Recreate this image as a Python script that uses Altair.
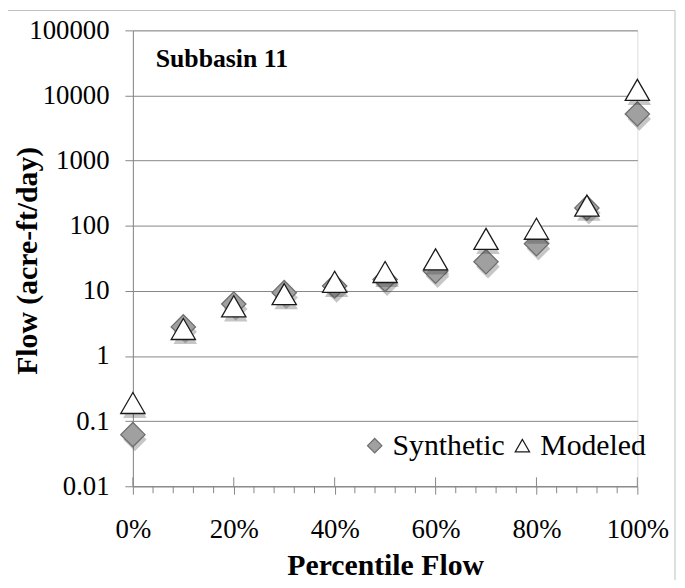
import altair as alt
import pandas as pd

percentiles = [0.0, 0.1, 0.2, 0.3, 0.4, 0.5, 0.6, 0.7, 0.8, 0.9, 1.0]
synthetic = [0.062, 2.8, 6.3, 9.4, 11.9, 15, 20, 28, 53, 188, 5200]
modeled = [0.19, 2.6, 5.8, 8.9, 13.8, 19.5, 30.5, 63, 90, 204, 12200]
series_names = ["Synthetic", "Modeled"]
series_shapes = ["diamond", "triangle-up"]
y_ticks = [0.01, 0.1, 1, 10, 100, 1000, 10000, 100000]
x_ticks = [0.0, 0.2, 0.4, 0.6, 0.8, 1.0]
x_minor = [0.04, 0.08, 0.12, 0.16, 0.24, 0.28, 0.32, 0.36, 0.44, 0.48, 0.52, 0.56,
           0.64, 0.68, 0.72, 0.76, 0.84, 0.88, 0.92, 0.96]
panel_label = "Subbasin 11"

W, H = 509, 460
FONT = "'Liberation Serif', 'Times New Roman', serif"

df = pd.DataFrame(
    {"pct": percentiles * 2,
     "flow": synthetic + modeled,
     "series": [series_names[0]] * len(synthetic) + [series_names[1]] * len(modeled)}
)

xs = alt.Scale(domain=[0, 1], nice=False, zero=False)
ys = alt.Scale(type="log", domain=[0.01, 100000], nice=False)

x_axis = alt.Axis(values=x_ticks, format=".0%", title="Percentile Flow", grid=False,
                  tickSize=8, tickColor="#868686", domainColor="#868686",
                  labelFont=FONT, labelFontSize=27, labelColor="black", labelPadding=23,
                  labelFlush=False, labelOverlap=False,
                  titleFont=FONT, titleFontSize=30, titleFontWeight="bold", titleColor="black",
                  titleBaseline="alphabetic", titleY=89)
y_axis = alt.Axis(values=y_ticks, format="~f", title="Flow (acre-ft/day)", grid=True,
                  gridColor="#868686", gridWidth=1,
                  tickSize=8, tickColor="#868686", domainColor="#868686",
                  labelFont=FONT, labelFontSize=27, labelColor="black", labelPadding=16,
                  labelFlush=False, labelOverlap=False,
                  titleFont=FONT, titleFontSize=30, titleFontWeight="bold", titleColor="black",
                  titleAngle=270, titleAlign="center", titleBaseline="middle",
                  titleX=-106, titleY=232)

shape_scale = alt.Scale(domain=series_names, range=series_shapes)
fill_scale = alt.Scale(domain=series_names, range=["#a0a0a0", "#ffffff"])
stroke_scale = alt.Scale(domain=series_names, range=["#6e6e6e", "#1a1a1a"])

legend = alt.Legend(title=None, orient="none", legendX=229, legendY=404,
                    direction="horizontal", labelFont=FONT,
                    labelFontSize=30, labelColor="black",
                    symbolSize=210, symbolStrokeWidth=1.2,
                    columnPadding=2, labelOffset=3)

base = alt.Chart(df)

layers = []
for name, shp in zip(series_names, series_shapes):
    sub = base.transform_filter(alt.datum.series == name)
    shadow = sub.mark_point(filled=True, size=560, opacity=0.28, color="#333333",
                            shape=shp, xOffset=2, yOffset=5, strokeWidth=0).encode(
        x=alt.X("pct:Q", scale=xs, axis=x_axis),
        y=alt.Y("flow:Q", scale=ys, axis=y_axis),
    )
    pts = sub.mark_point(filled=True, size=600, strokeWidth=1.3, opacity=1).encode(
        x=alt.X("pct:Q", scale=xs, axis=x_axis),
        y=alt.Y("flow:Q", scale=ys, axis=y_axis),
        shape=alt.Shape("series:N", scale=shape_scale, legend=legend),
        fill=alt.Fill("series:N", scale=fill_scale, legend=legend),
        stroke=alt.Stroke("series:N", scale=stroke_scale, legend=legend),
    )
    layers += [shadow, pts]

major_df = pd.DataFrame({"pct": x_ticks})
minor_df = pd.DataFrame({"pct": x_minor})
major_inner = alt.Chart(major_df).mark_rule(color="#868686", strokeWidth=1).encode(
    x=alt.X("pct:Q", scale=xs), y=alt.value(H - 9), y2=alt.value(H))
minor = alt.Chart(minor_df).mark_rule(color="#868686", strokeWidth=1).encode(
    x=alt.X("pct:Q", scale=xs), y=alt.value(H), y2=alt.value(H + 7))

label = alt.Chart(pd.DataFrame({"t": [panel_label]})).mark_text(
    font=FONT, fontSize=26, fontWeight="bold", align="left", baseline="middle", color="black"
).encode(text="t:N", x=alt.value(23), y=alt.value(29))

frame = alt.Chart(pd.DataFrame({"a": [0]})).mark_rect(
    fill=None, stroke="#bdbdbd", strokeWidth=1
).encode(x=alt.value(-128), x2=alt.value(547), y=alt.value(-20), y2=alt.value(570))

chart = alt.layer(frame, major_inner, minor, *layers, label).properties(
    width=W, height=H,
    autosize=alt.AutoSizeParams(type="none"),
    padding={"left": 126, "top": 20, "right": 40, "bottom": 92},
).configure_view(stroke="#868686", strokeWidth=1).configure(background="white")

chart.save("out.html", embed_options={"renderer": "svg", "actions": False})
